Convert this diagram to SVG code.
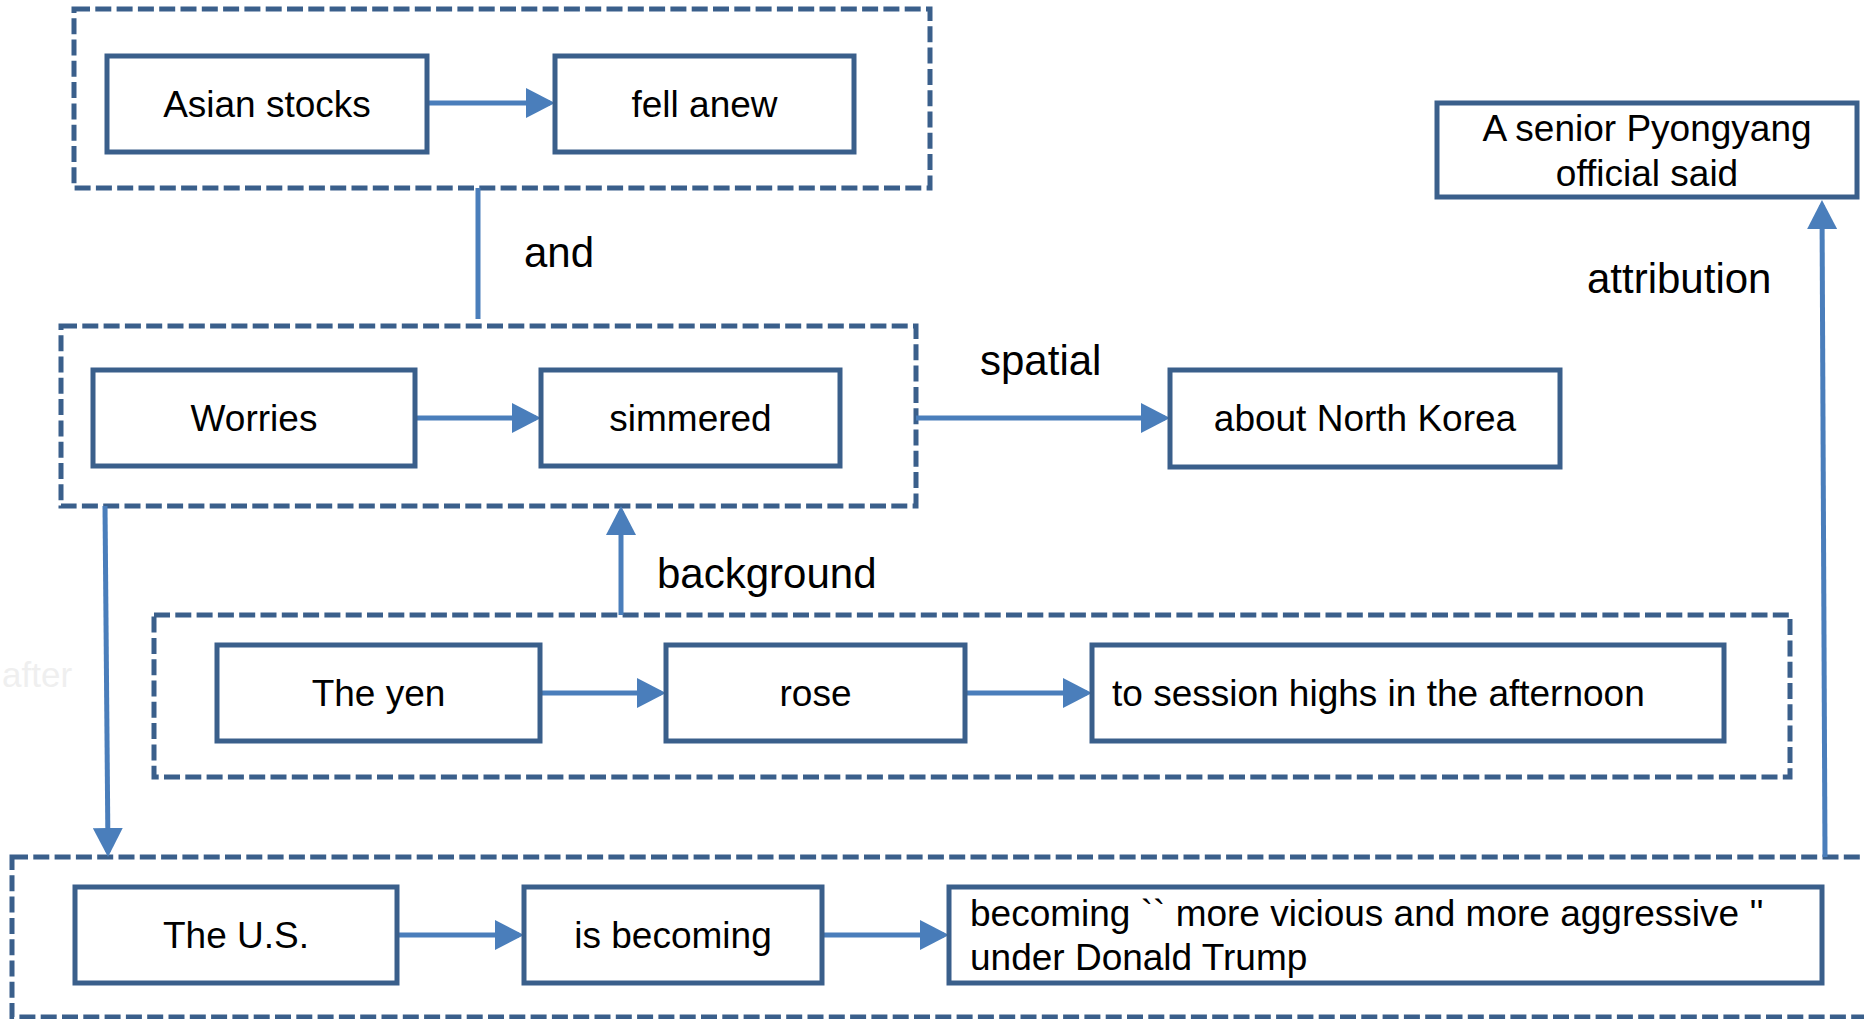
<svg xmlns="http://www.w3.org/2000/svg" width="1864" height="1019" viewBox="0 0 1864 1019">
  <style>
    .node { fill: #ffffff; stroke: #3A5F8B; stroke-width: 5; }
    .group { fill: none; stroke: #3A5F8B; stroke-width: 5; stroke-dasharray: 16 5.3; }
    .t { font-family: "Liberation Sans", Arial, sans-serif; font-size: 37px; fill: #000000; }
    .c { text-anchor: middle; }
    .lbl { font-family: "Liberation Sans", Arial, sans-serif; font-size: 42px; fill: #000000; }
    .faint { font-family: "Liberation Sans", Arial, sans-serif; font-size: 35px; fill: #EFEFEF; }
    .edge { fill: none; stroke: #4A7EBB; stroke-width: 5; }
  </style>
  <defs>
    <marker id="arrow" markerUnits="userSpaceOnUse" markerWidth="29" markerHeight="30" refX="24" refY="15" orient="auto">
      <path d="M0,0 L29,15 L0,30 z" fill="#4A7EBB"/>
    </marker>
  </defs>

  <rect width="1864" height="1019" fill="#ffffff"/>

  <!-- dashed groupings -->
  <g id="groups">
    <rect class="group" x="74" y="9" width="856" height="179"/>
    <rect class="group" x="61" y="326" width="855" height="180"/>
    <rect class="group" x="154" y="615" width="1636" height="162"/>
    <rect class="group" x="12" y="857" width="1870" height="160"/>
  </g>

  <!-- connectors -->
  <g id="connectors">
    <path class="edge" d="M427,103 H550" marker-end="url(#arrow)"/>
    <path class="edge" d="M415,418 H536" marker-end="url(#arrow)"/>
    <path class="edge" d="M540,693 H661" marker-end="url(#arrow)"/>
    <path class="edge" d="M965,693 H1087" marker-end="url(#arrow)"/>
    <path class="edge" d="M397,935 H519" marker-end="url(#arrow)"/>
    <path class="edge" d="M822,935 H944" marker-end="url(#arrow)"/>

    <path class="edge" d="M478,188 V319"/>
    <path class="edge" d="M916,418 H1165" marker-end="url(#arrow)"/>
    <path class="edge" d="M621,615 V511" marker-end="url(#arrow)"/>
    <path class="edge" d="M105,506 L108,852" marker-end="url(#arrow)"/>
    <path class="edge" d="M1825,857 L1822,205" marker-end="url(#arrow)"/>

    <text class="lbl" x="524" y="267">and</text>
    <text class="lbl" x="980" y="375">spatial</text>
    <text class="lbl" x="657" y="588">background</text>
    <text class="lbl" x="1587" y="293">attribution</text>
    <text class="faint" x="2" y="687">after</text>
  </g>

  <!-- nodes -->
  <g id="n-asian-stocks">
    <rect class="node" x="107" y="56" width="320" height="96"/>
    <text class="t c" x="267" y="117">Asian stocks</text>
  </g>
  <g id="n-fell-anew">
    <rect class="node" x="555" y="56" width="299" height="96"/>
    <text class="t c" x="704.5" y="117">fell anew</text>
  </g>
  <g id="n-worries">
    <rect class="node" x="93" y="370" width="322" height="96"/>
    <text class="t c" x="254" y="431">Worries</text>
  </g>
  <g id="n-simmered">
    <rect class="node" x="541" y="370" width="299" height="96"/>
    <text class="t c" x="690.5" y="431">simmered</text>
  </g>
  <g id="n-north-korea">
    <rect class="node" x="1170" y="370" width="390" height="97"/>
    <text class="t c" x="1365" y="431">about North Korea</text>
  </g>
  <g id="n-pyongyang">
    <rect class="node" x="1437" y="103" width="420" height="94"/>
    <text class="t c" x="1647" y="141">A senior Pyongyang</text>
    <text class="t c" x="1647" y="186">official said</text>
  </g>
  <g id="n-yen">
    <rect class="node" x="217" y="645" width="323" height="96"/>
    <text class="t c" x="378.5" y="706">The yen</text>
  </g>
  <g id="n-rose">
    <rect class="node" x="666" y="645" width="299" height="96"/>
    <text class="t c" x="815.5" y="706">rose</text>
  </g>
  <g id="n-session-highs">
    <rect class="node" x="1092" y="645" width="632" height="96"/>
    <text class="t" x="1112" y="706">to session highs in the afternoon</text>
  </g>
  <g id="n-us">
    <rect class="node" x="75" y="887" width="322" height="96"/>
    <text class="t c" x="236" y="948">The U.S.</text>
  </g>
  <g id="n-is-becoming">
    <rect class="node" x="524" y="887" width="298" height="96"/>
    <text class="t c" x="673" y="948">is becoming</text>
  </g>
  <g id="n-becoming">
    <rect class="node" x="949" y="887" width="873" height="96"/>
    <text class="t" x="970" y="926">becoming `` more vicious and more aggressive ''</text>
    <text class="t" x="970" y="970">under Donald Trump</text>
  </g>
</svg>
